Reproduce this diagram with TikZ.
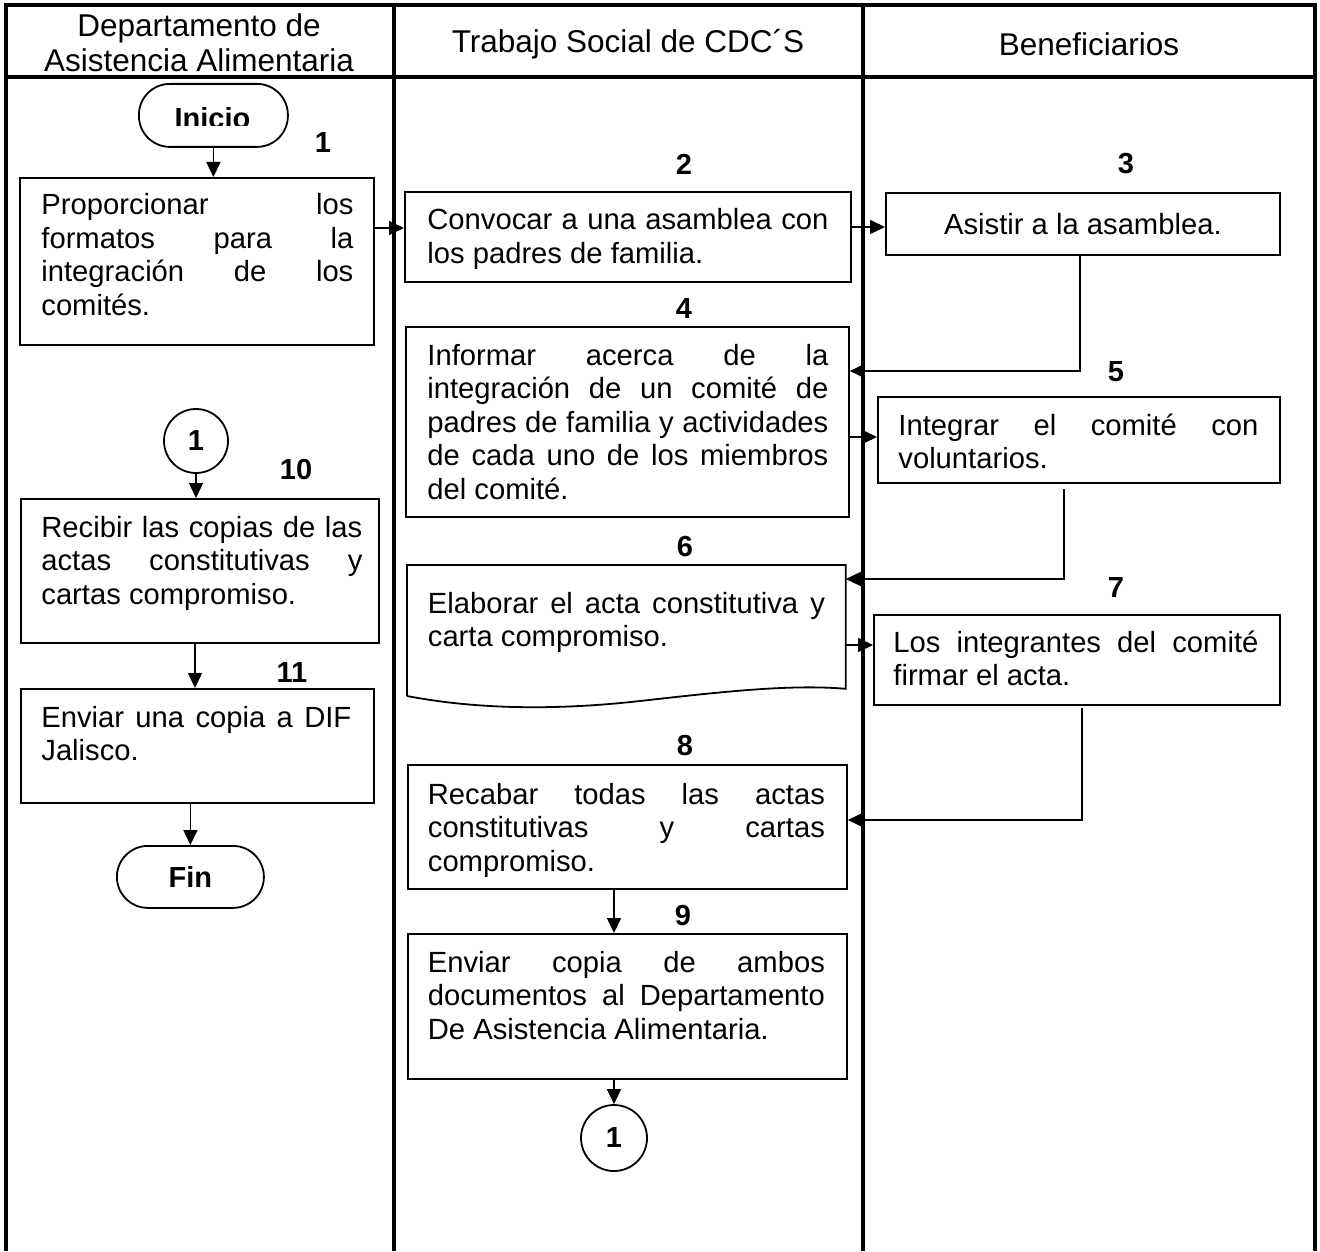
\documentclass[tikz,border=0pt]{standalone}
\usepackage{fontspec}
\setmainfont{Liberation Sans}
\usetikzlibrary{arrows.meta,calc}
\newlength\px \setlength\px{0.5pt}
\newcommand\jl[1]{\makebox[\linewidth][s]{#1}\par}
\begin{document}
\begin{tikzpicture}[x=0.5pt,y=-0.5pt,
  frame/.style={line width=1.8pt},
  box/.style={draw, line width=0.9pt, rectangle, inner sep=0pt, anchor=north west},
  ghost/.style={rectangle, inner sep=0pt, anchor=north west},
  txt/.style={inner sep=0pt, anchor=base west, font=\fontsize{14.6pt}{16.75pt}\selectfont},
  num/.style={inner sep=0pt, font=\bfseries\fontsize{14.5pt}{16pt}\selectfont},
  head/.style={inner sep=0pt, align=center, font=\fontsize{15.75pt}{17.5pt}\selectfont},
  term/.style={draw, line width=0.9pt, rectangle, rounded corners=15.5pt, inner sep=0pt, anchor=north west, font=\bfseries\fontsize{14.5pt}{16pt}\selectfont},
  conn/.style={draw, line width=0.9pt, circle, inner sep=0pt, font=\bfseries\fontsize{14.5pt}{16pt}\selectfont},
  arr/.style={line width=0.8pt, -{Triangle[length=7.5pt,width=7pt]}},
  ln/.style={line width=0.8pt}
]
\useasboundingbox (0,0) rectangle (1320,1251);

% ---------- frame ----------
\draw[frame] (4,5) -- (1317,5);
\draw[frame] (4,77) -- (1317,77);
\draw[frame] (6,4) -- (6,1251);
\draw[frame] (394,4) -- (394,1251);
\draw[frame] (863,4) -- (863,1251);
\draw[frame] (1315,4) -- (1315,1251);

% ---------- headers ----------
\node[head] (h1) at (199,42.5) {Departamento de\\Asistencia Alimentaria};
\node[head] (h2) at (628,44) {Trabajo Social de CDC´S};
\node[head] (h3) at (1089,44) {Beneficiarios};

% ---------- column 1 ----------
\node[term, minimum width=149\px, minimum height=63\px] (ini) at (138,83) {};
\begin{scope}
  \clip (140,85) rectangle (285,126);
  \node[inner sep=0pt, anchor=base, font=\bfseries\fontsize{14.5pt}{16pt}\selectfont] (initxt) at (212.5,129) {Inicio};
\end{scope}
\node[num] (n1) at (323,143) {1};

\node[box, minimum width=354\px, minimum height=167\px] (b1) at (19,177) {};
\node[txt] (t1) at (41,215) {\parbox[t]{312\px}{\jl{Proporcionar los}\jl{formatos para la}\jl{integración de los}comités.}};

\node[conn, minimum size=64\px] (c1) at (196,441) {1};
\node[num] (n10) at (296,470) {10};

\node[box, minimum width=358\px, minimum height=144\px] (b10) at (20,498) {};
\node[txt] (t10) at (41,537) {\parbox[t]{321\px}{\jl{Recibir las copias de las}\jl{actas constitutivas y}cartas compromiso.}};

\node[num] (n11) at (292,673) {11};
\node[box, minimum width=353\px, minimum height=114\px] (b11) at (20,688) {};
\node[txt] (t11) at (41,727) {\parbox[t]{310\px}{\jl{Enviar una copia a DIF}Jalisco.}};

\node[term, minimum width=147\px, minimum height=62\px] (fin) at (116,845) {Fin};

% ---------- column 2 ----------
\node[num] (n2) at (684,164) {2};
\node[box, minimum width=446\px, minimum height=90\px] (b2) at (404,191) {};
\node[txt] (t2) at (427,230) {\parbox[t]{401\px}{\jl{Convocar a una asamblea con}los padres de familia.}};

\node[num] (n4) at (684,309) {4};
\node[box, minimum width=443\px, minimum height=190\px] (b4) at (405,326) {};
\node[txt] (t4) at (427,365) {\parbox[t]{401\px}{\jl{Informar acerca de la}\jl{integración de un comité de}\jl{padres de familia y actividades}\jl{de cada uno de los miembros}del comité.}};

\node[num] (n6) at (685,547) {6};
\node[ghost, minimum width=438\px, minimum height=123\px] (b6) at (407,565) {};
\draw[line width=0.9pt] ($(b6.north west)+(0,131)$) -- (b6.north west) -- (b6.north east) -- (b6.south east)
  .. controls ($(b6.north west)+(383,119)$) and ($(b6.north west)+(313,127)$) .. ($(b6.north west)+(233,136)$)
  .. controls ($(b6.north west)+(153,145)$) and ($(b6.north west)+(73,145)$) .. ($(b6.north west)+(0,131)$);
\node[txt] (t6) at (427.5,613) {\parbox[t]{397\px}{\jl{Elaborar el acta constitutiva y}carta compromiso.}};

\node[num] (n8) at (685,746) {8};
\node[box, minimum width=439\px, minimum height=124\px] (b8) at (407,764) {};
\node[txt] (t8) at (427.5,804) {\parbox[t]{397\px}{\jl{Recabar todas las actas}\jl{constitutivas y cartas}compromiso.}};

\node[num] (n9) at (683,916) {9};
\node[box, minimum width=439\px, minimum height=145\px] (b9) at (407,933) {};
\node[txt] (t9) at (427.5,972) {\parbox[t]{397\px}{\jl{Enviar copia de ambos}\jl{documentos al Departamento}De Asistencia Alimentaria.}};

\node[conn, minimum size=66\px] (c2) at (614,1138) {1};

% ---------- column 3 ----------
\node[num] (n3) at (1126,164) {3};
\node[box, minimum width=394\px, minimum height=62\px, font=\fontsize{14.6pt}{16.75pt}\selectfont] (b3) at (885,192) {Asistir a la asamblea.};

\node[num] (n5) at (1116,372) {5};
\node[box, minimum width=402\px, minimum height=86\px] (b5) at (877,396) {};
\node[txt] (t5) at (898,435) {\parbox[t]{360\px}{\jl{Integrar el comité con}voluntarios.}};

\node[num] (n7) at (1116,588) {7};
\node[box, minimum width=406\px, minimum height=90\px] (b7) at (873,614) {};
\node[txt] (t7) at (893,652) {\parbox[t]{365\px}{\jl{Los integrantes del comité}firmar el acta.}};

% ---------- connectors ----------
\draw[arr] (ini.south) -- (ini.south |- b1.north);
\draw[arr] ($(b1.north east)+(0,51)$) -- ($(b2.north west)+(0,37)$);
\draw[arr] ($(b2.north east)+(0,36)$) -- ($(b3.north west)+(0,35)$);
\draw[arr] ($(b3.south west)+(195,0)$) |- ($(b4.north east)+(0,45)$);
\draw[arr] ($(b4.north east)+(0,111)$) -- ($(b5.north west)+(0,41)$);
\draw[arr] ($(b5.south west)+(187,5)$) |- ($(b6.north east)+(0,14)$);
\draw[arr] ($(b6.north east)+(0,80)$) -- ($(b7.north west)+(0,31)$);
\draw[arr] ($(b7.south west)+(209,2)$) |- ($(b8.north east)+(0,56)$);
\draw[arr] ($(b8.south west)+(207,0)$) -- ($(b9.north west)+(207,0)$);
\draw[arr] ($(b9.south west)+(207,0)$) -- (c2.north);
\draw[arr] (c1.south) -- (c1.south |- b10.north);
\draw[arr] ($(b10.south west)+(175,0)$) -- ($(b11.north west)+(175,0)$);
\draw[arr] (fin.north |- b11.south) -- (fin.north);
\end{tikzpicture}
\end{document}
